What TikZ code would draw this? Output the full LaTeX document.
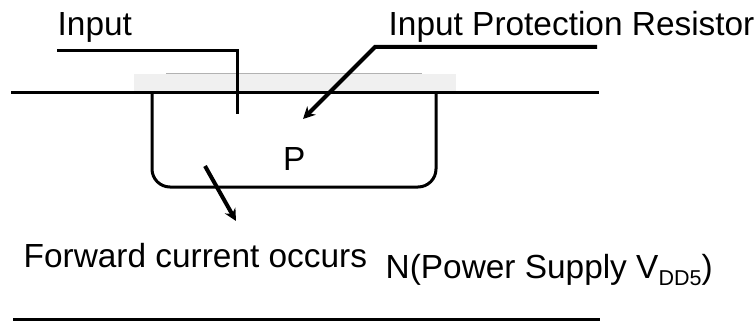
\documentclass[tikz,border=0pt]{standalone}
\usepackage{fontspec}
\setmainfont{Liberation Sans}
\usetikzlibrary{arrows.meta, positioning}
\begin{document}
\begin{tikzpicture}[
    x=1pt,
    y=-1pt,
    line/.style={
        line width=3pt,
        black
    },
    arrow/.style={
        -{Stealth[length=12pt,width=12pt]},
        line width=4pt,
        black
    },
    label/.style={
        font=\fontsize{33.4}{36}\selectfont,
        inner sep=0pt,
        anchor=base west
    }
]
\useasboundingbox (0,0) rectangle (756,321);

% Protection layer
\fill[black!6] (134,74) rectangle (456,92);
\draw[black!30, line width=1pt] (166,74) -- (422,74);

% Junction lines
\coordinate (top-left) at (11,93);
\coordinate (top-right) at (599,93);
\coordinate (bottom-left) at (13,319.5);
\coordinate (bottom-right) at (600,319.5);
\draw[line] (top-left) -- (top-right);
\draw[line] (bottom-left) -- (bottom-right);

% P well
\draw[line, rounded corners=18pt] (152,93) -- (152,187) -- (436,187) -- (436,93);

% Labels
\node[label] (input) at (57.5,36) {Input};
\node[label] (resistor) at (388.5,36) {Input Protection Resistor};
\node[label] (well) at (283,171) {P};
\node[label] (forward) at (23.5,267) {Forward current occurs};
\node[label] (supply) at (385.5,278) {N(Power Supply V\raisebox{-7pt}{\fontsize{21.5}{24}\selectfont DD5})};

% Leaders
\coordinate (input-start) at (57,51);
\coordinate (input-corner) at (237,51);
\coordinate (input-end) at (237,114);
\coordinate (resistor-start) at (597,47);
\coordinate (resistor-corner) at (375,47);
\coordinate (resistor-end) at (303,119);
\coordinate (forward-start) at (205,166);
\coordinate (forward-end) at (236,221);
\draw[line] (input-start) -- (input-corner) -- (input-end);
\draw[arrow] (resistor-start) -- (resistor-corner) -- (resistor-end);
\draw[arrow] (forward-start) -- (forward-end);

\end{tikzpicture}
\end{document}
